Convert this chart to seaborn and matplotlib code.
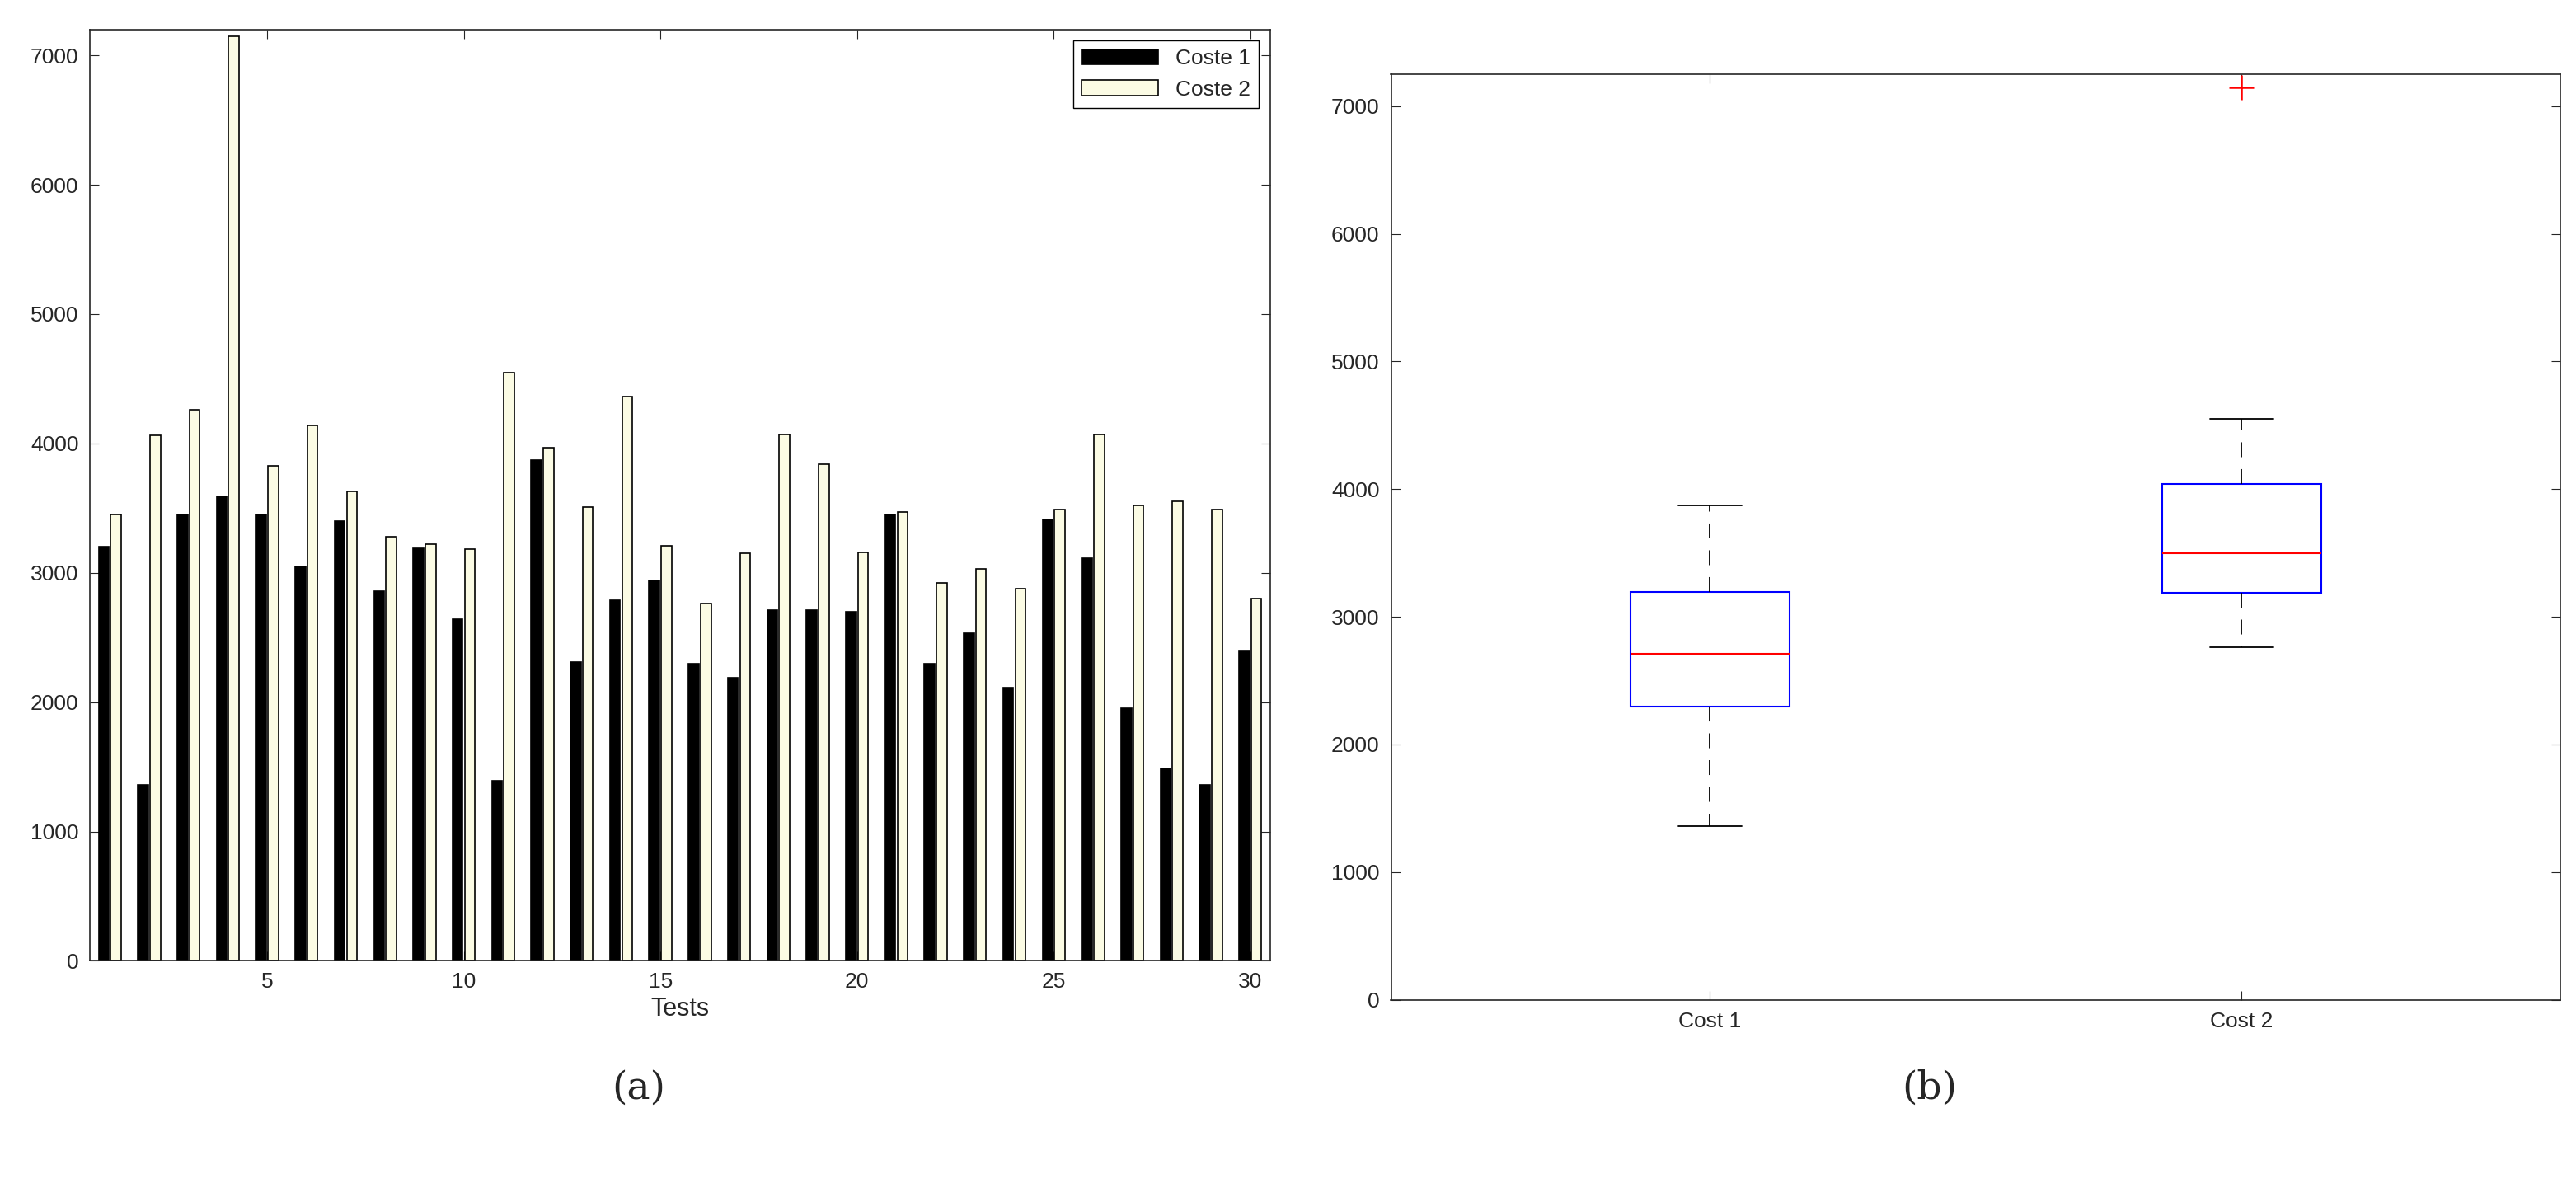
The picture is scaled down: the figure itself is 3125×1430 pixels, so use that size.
import matplotlib
matplotlib.use("Agg")
import matplotlib.pyplot as plt
import seaborn as sns
import pandas as pd
import numpy as np

tests = list(range(1, 31))
coste1 = [3200, 1360, 3450, 3590, 3450, 3050, 3400, 2860, 3190, 2640,
          1390, 3870, 2310, 2790, 2940, 2300, 2190, 2710, 2710, 2700,
          3450, 2300, 2530, 2110, 3410, 3110, 1950, 1490, 1360, 2400]
coste2 = [3450, 4060, 4260, 7150, 3830, 4140, 3630, 3280, 3220, 3180,
          4550, 3970, 3510, 4360, 3210, 2760, 3150, 4070, 3840, 3160,
          3470, 2920, 3030, 2880, 3490, 4070, 3520, 3550, 3490, 2800]
series_names = ["Coste 1", "Coste 2"]
box_labels = ["Cost 1", "Cost 2"]

sns.set_style("white")
plt.rcParams['font.family'] = ['Liberation Sans', 'DejaVu Sans']

fig = plt.figure(figsize=(31.25, 14.30), dpi=100)
ax1 = fig.add_axes([0.035, 0.185, 0.458, 0.79])
ax2 = fig.add_axes([0.54, 0.152, 0.454, 0.785])

df = pd.DataFrame({"Test": tests * 2, "Value": coste1 + coste2,
                   "Serie": [series_names[0]] * 30 + [series_names[1]] * 30})
sns.barplot(data=df, x="Test", y="Value", hue="Serie", native_scale=True,
            palette=["black", "#FFFFE0"], edgecolor="black", linewidth=1.2,
            width=0.62, gap=0.15, ax=ax1, errorbar=None)
ax1.set_xlim(0.5, 30.5)
ax1.set_ylim(0, 7200)
ax1.set_xticks([5, 10, 15, 20, 25, 30])
ax1.set_yticks(range(0, 7001, 1000))
ax1.set_xlabel("Tests", fontsize=22)
ax1.set_ylabel("")
leg = ax1.legend(loc="upper right", fontsize=19, fancybox=False, framealpha=1,
                 edgecolor="black", handlelength=3.5)

bdf = pd.DataFrame({"Cost": [box_labels[0]] * 30 + [box_labels[1]] * 30,
                    "Value": coste1 + coste2})
sns.boxplot(data=bdf, x="Cost", y="Value", ax=ax2, width=0.3, whis=1.5,
            boxprops=dict(facecolor="white", edgecolor="blue", linewidth=1.5),
            medianprops=dict(color="red", linewidth=1.5),
            whiskerprops=dict(color="black", linestyle=(0, (10, 8)), linewidth=1.3),
            capprops=dict(color="black", linewidth=1.3),
            flierprops=dict(marker="+", markeredgecolor="red", markersize=22, markeredgewidth=1.8),
            capwidths=0.12)
ax2.set_xlim(-0.6, 1.6)
ax2.set_ylim(0, 7250)
ax2.set_yticks(range(0, 7001, 1000))
ax2.set_xlabel("")
ax2.set_ylabel("")

for ax in (ax1, ax2):
    for s in ax.spines.values():
        s.set_visible(True)
        s.set_color("#262626")
        s.set_linewidth(1.2)
    ax.tick_params(direction="in", length=8, labelsize=19, top=True, right=True,
                   bottom=True, left=True, colors="#262626", pad=10)

fig.text(0.248, 0.077, "(a)", fontsize=34, ha="center", va="center", family="DejaVu Serif")
fig.text(0.749, 0.077, "(b)", fontsize=34, ha="center", va="center", family="DejaVu Serif")
fig.savefig("out.png", dpi=100)
